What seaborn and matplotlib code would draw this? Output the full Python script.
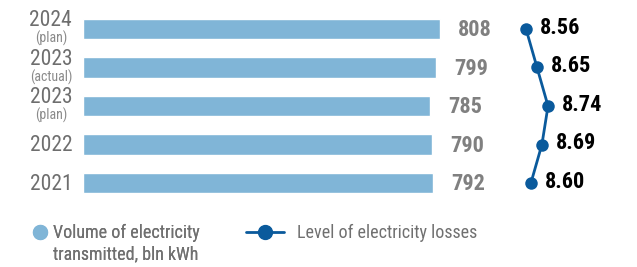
import matplotlib
matplotlib.use("Agg")
import matplotlib.pyplot as plt
import matplotlib.font_manager as fm
import matplotlib.transforms as mtransforms
from matplotlib.lines import Line2D
import pandas as pd
import seaborn as sns

years = ["2024", "2023", "2023", "2022", "2021"]
notes = ["(plan)", "(actual)", "(plan)", "", ""]
volume = [808, 799, 785, 790, 792]
losses = [8.56, 8.65, 8.74, 8.69, 8.60]
volume_label = ["Volume of electricity", "transmitted, bln kWh"]
losses_label = "Level of electricity losses"

bar_color = "#80B5D7"
line_color = "#0A5A9C"

sns.set_theme(style="white")
names = {f.name for f in fm.fontManager.ttflist}
font = "DejaVu Sans"
for cand in ["Roboto Condensed", "Liberation Sans Narrow", "Open Sans Condensed", "Noto Sans Condensed"]:
    if cand in names:
        font = cand
        break
plt.rcParams["font.family"] = [font, "DejaVu Sans"]

df = pd.DataFrame({"cat": [f"{y} {n}" for y, n in zip(years, notes)],
                   "volume": volume, "losses": losses, "pos": range(len(years))})

fig = plt.figure(figsize=(6.37, 2.67), dpi=100)
ax = fig.add_axes([83 / 637, 0.2425, 554 / 637, 0.721])
sns.barplot(data=df, x="volume", y="cat", orient="h", color=bar_color,
            width=0.52, saturation=1, ax=ax)
ax.set_xlim(0, 1254)
ax.set_ylim(4.5, -0.5)
ax.axis("off")

for i, v in enumerate(volume):
    ax.annotate(str(v), xy=(v, i), xytext=(13, -1), textcoords="offset points",
                ha="left", va="center", fontsize=16, fontweight="bold", color="#808080")

trans = mtransforms.blended_transform_factory(ax.transAxes, ax.transData)
for i, (y, n) in enumerate(zip(years, notes)):
    dy = 6 if n else -1
    ax.annotate(y, xy=(-0.058, i), xycoords=trans, xytext=(0, dy), textcoords="offset points",
                ha="center", va="center", fontsize=15.5, color="#6E6E6E")
    if n:
        ax.annotate(n, xy=(-0.058, i), xycoords=trans, xytext=(0, -7), textcoords="offset points",
                    ha="center", va="center", fontsize=10, color="#8A8A8A")

ax2 = ax.twiny()
sns.lineplot(data=df, x="losses", y="pos", sort=False, orient="y", color=line_color,
             marker="o", markersize=9, markeredgewidth=0, linewidth=2, ax=ax2)
ax2.set_xlim(4.935, 9.468)
ax2.set_ylim(4.5, -0.5)
ax2.axis("off")
for i, v in enumerate(losses):
    ax2.annotate(f"{v:.2f}", xy=(v, i), xytext=(10, 1), textcoords="offset points",
                 ha="left", va="center", fontsize=16, fontweight="bold", color="black")

h1 = Line2D([], [], color=bar_color, marker="o", linestyle="none", markersize=10)
h_blank = Line2D([], [], linestyle="none")
h2 = Line2D([], [], color=line_color, marker="o", linewidth=2, markersize=10)
leg1 = fig.legend([h1, h_blank], volume_label, loc="upper left", bbox_to_anchor=(33 / 637, 0.162),
                  frameon=False, fontsize=13, labelcolor="#707070", handlelength=0.8,
                  handletextpad=0.3, borderpad=0, borderaxespad=0, labelspacing=0.2)
fig.add_artist(leg1)
fig.legend([h2], [losses_label], loc="upper left", bbox_to_anchor=(246 / 637, 0.162),
           frameon=False, fontsize=13, labelcolor="#707070", handlelength=2.1,
           handletextpad=0.7, borderpad=0, borderaxespad=0)

fig.savefig("out.png", dpi=100)
plt.close(fig)
